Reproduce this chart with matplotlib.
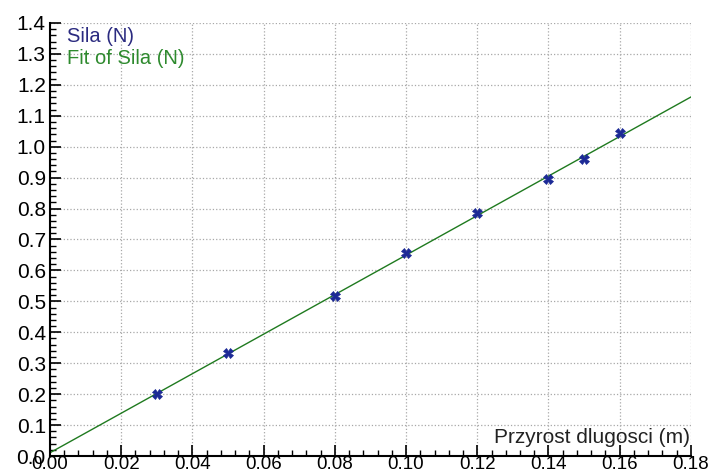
import matplotlib
matplotlib.use("Agg")
import matplotlib.pyplot as plt
import numpy as np
from matplotlib.ticker import MultipleLocator

plt.rcParams['font.family'] = ['Liberation Sans', 'DejaVu Sans']

# measured data
dl = np.array([0.03, 0.05, 0.08, 0.10, 0.12, 0.14, 0.15, 0.16])
sila = np.array([0.20, 0.333, 0.517, 0.655, 0.785, 0.895, 0.96, 1.043])

# linear fit
a, b = np.polyfit(dl, sila, 1)
xfit = np.array([0.0, 0.18])
yfit = a * xfit + b

fig = plt.figure(figsize=(7.09, 4.75), dpi=100)
ax = fig.add_axes([0.0705, 0.04, 0.904, 0.9116])

ax.plot(xfit, yfit, color='#1f7a1f', lw=1.0, zorder=2)
ax.plot(dl, sila, ls='none', marker='X', ms=7, color='#1c2a96',
        markeredgewidth=0.5, zorder=3)

ax.set_xlim(0, 0.18)
ax.set_ylim(0, 1.4)
ax.xaxis.set_major_locator(MultipleLocator(0.02))
ax.xaxis.set_minor_locator(MultipleLocator(0.004))
ax.yaxis.set_major_locator(MultipleLocator(0.1))
ax.yaxis.set_minor_locator(MultipleLocator(0.02))
ax.xaxis.set_major_formatter(matplotlib.ticker.FormatStrFormatter('%.2f'))
ax.yaxis.set_major_formatter(matplotlib.ticker.FormatStrFormatter('%.1f'))

ax.tick_params(which='both', direction='in', color='black')
ax.tick_params(which='major', length=8, width=1.2)
ax.tick_params(which='minor', length=4, width=1.0)
ax.tick_params(axis='x', pad=0, labelsize=13.5)
ax.tick_params(axis='y', pad=3, labelsize=15)

ax.grid(True, which='major', ls=':', color='#a8a8a8', lw=0.9)
ax.set_axisbelow(True)

for s in ['top', 'right']:
    ax.spines[s].set_visible(False)
for s in ['left', 'bottom']:
    ax.spines[s].set_linewidth(1.5)

ax.text(0.026, 0.99, 'Sila (N)', transform=ax.transAxes, color='#2b2b80',
        fontsize=14.5, ha='left', va='top')
ax.text(0.026, 0.94, 'Fit of Sila (N)', transform=ax.transAxes, color='#2e8a2e',
        fontsize=14.5, ha='left', va='top')
ax.text(0.998, 0.02, 'Przyrost dlugosci (m)', transform=ax.transAxes,
        color='#222222', fontsize=15, ha='right', va='bottom')

fig.savefig('out.png', dpi=100)
